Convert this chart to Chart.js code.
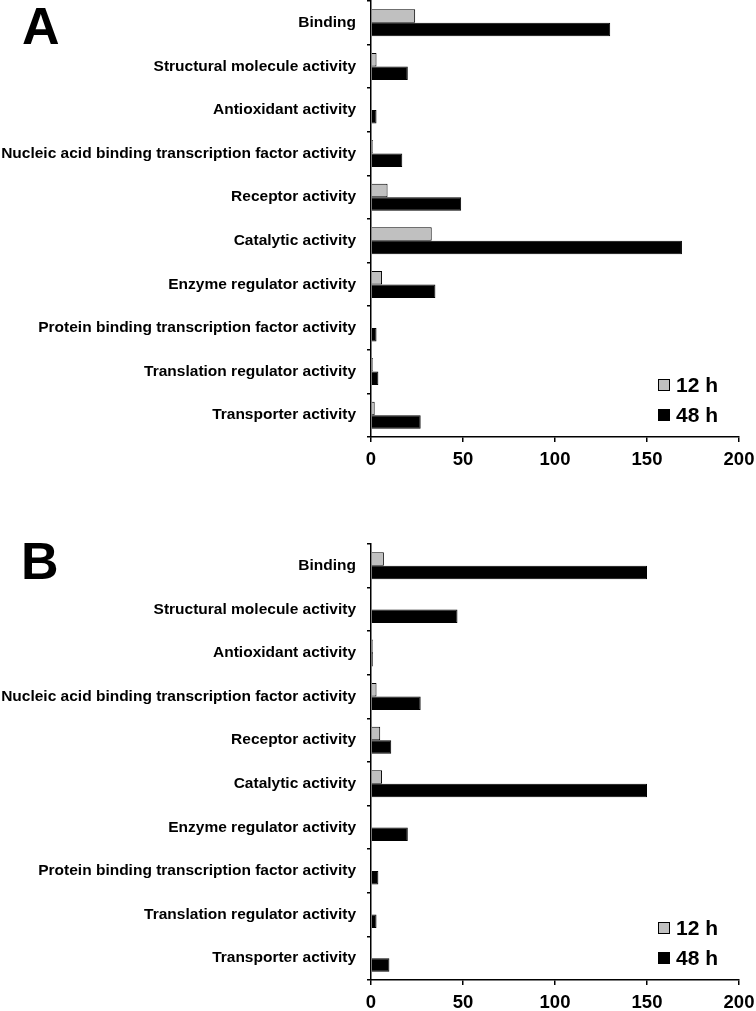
<!DOCTYPE html>
<html>
<head>
<meta charset="utf-8">
<script src="https://cdn.jsdelivr.net/npm/chart.js@4"></script>
<style>
  body { margin: 0; background: #fff; width: 756px; height: 1011px; position: relative; overflow: hidden; }
  .panel { position: absolute; left: 0; }
  .letter { position: absolute; font: bold 52px "Liberation Sans", Arial, sans-serif; line-height: 52px; color: #000; }
</style>
</head>
<body>
<div class="letter" style="left:22px; top:0px;">A</div>
<div class="letter" style="left:21px; top:535px;">B</div>
<div class="panel" style="top:0px;"><canvas id="chartA" width="756" height="480"></canvas></div>
<div class="panel" style="top:543px;"><canvas id="chartB" width="756" height="468"></canvas></div>
<script>
const categories = [
  "Binding",
  "Structural molecule activity",
  "Antioxidant activity",
  "Nucleic acid binding transcription factor activity",
  "Receptor activity",
  "Catalytic activity",
  "Enzyme regulator activity",
  "Protein binding transcription factor activity",
  "Translation regulator activity",
  "Transporter activity"
];
const seriesNames = ["12 h", "48 h"];
const seriesColors = ["#c0c0c0", "#000000"];

// panel A
const a12h = [24, 3, 0, 1, 9, 33, 6, 0, 1, 2];
const a48h = [130, 20, 3, 17, 49, 169, 35, 3, 4, 27];
// panel B
const b12h = [7, 0, 1, 3, 5, 6, 0, 0, 0, 0];
const b48h = [150, 47, 1, 27, 11, 150, 20, 4, 3, 10];

const xTicks = [0, 50, 100, 150, 200];

const FONT = '"Liberation Sans", Arial, sans-serif';

// legend drawn inside the plot, bottom right
const insideLegend = {
  id: "insideLegend",
  afterDraw(chart) {
    const ctx = chart.ctx;
    const bottom = chart.chartArea.bottom;
    ctx.save();
    ctx.font = "bold 21px " + FONT;
    ctx.textBaseline = "middle";
    ctx.textAlign = "left";
    chart.data.datasets.forEach((ds, i) => {
      const cy = bottom - 52 + i * 30;
      ctx.fillStyle = ds.backgroundColor;
      ctx.fillRect(658, cy - 6, 12, 12);
      ctx.strokeStyle = "#000";
      ctx.lineWidth = 1;
      ctx.strokeRect(658.5, cy - 5.5, 11, 11);
      ctx.fillStyle = "#000";
      ctx.fillText(ds.label, 676, cy + 1);
    });
    ctx.restore();
  }
};

function makePanel(id, v12, v48, canvasH) {
  const plotH = 436;
  return new Chart(document.getElementById(id), {
    type: "bar",
    data: {
      labels: categories,
      datasets: [
        { label: seriesNames[0], data: v12, backgroundColor: seriesColors[0], borderColor: "#000", borderWidth: 1 },
        { label: seriesNames[1], data: v48, backgroundColor: seriesColors[1], borderColor: "#000", borderWidth: 1 }
      ]
    },
    options: {
      indexAxis: "y",
      responsive: false,
      animation: false,
      devicePixelRatio: 1,
      categoryPercentage: 0.62,
      barPercentage: 1,
      layout: { padding: { top: 1, right: 17, left: 0, bottom: 0 } },
      plugins: { legend: { display: false }, tooltip: { enabled: false } },
      scales: {
        x: {
          min: 0,
          max: 200,
          afterBuildTicks: s => { s.ticks = xTicks.map(v => ({ value: v })); },
          afterFit: s => { s.height = canvasH - 1 - plotH; s.paddingLeft = 0; s.paddingRight = 0; },
          grid: { drawOnChartArea: false, color: "#000", lineWidth: 1.5, tickLength: 5 },
          border: { color: "#000", width: 1.5 },
          ticks: { color: "#000", padding: 7, maxRotation: 0, font: { family: FONT, size: 18.5, weight: "bold" } }
        },
        y: {
          afterFit: s => { s.width = 371; s.paddingTop = 0; s.paddingBottom = 0; },
          grid: { drawOnChartArea: false, color: "#000", lineWidth: 1.5, tickLength: 4, offset: true },
          border: { color: "#000", width: 1.5 },
          ticks: { color: "#000", padding: 11, autoSkip: false, font: { family: FONT, size: 15.5, weight: "bold" } }
        }
      }
    },
    plugins: [insideLegend]
  });
}

makePanel("chartA", a12h, a48h, 480);
makePanel("chartB", b12h, b48h, 468);
</script>
</body>
</html>
